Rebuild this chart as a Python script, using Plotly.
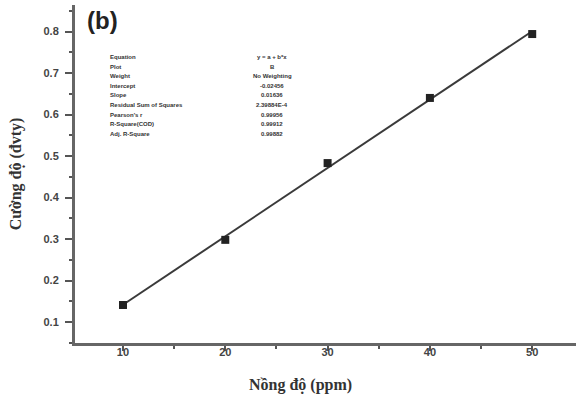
import numpy as np
import plotly.graph_objects as go

conc = [10, 20, 30, 40, 50]
intensity = [0.141, 0.298, 0.483, 0.640, 0.794]

stat_labels = ["Equation", "Plot", "Weight", "Intercept", "Slope",
               "Residual Sum of Squares", "Pearson's r", "R-Square(COD)", "Adj. R-Square"]
stat_values = ["y = a + b*x", "B", "No Weighting", "-0.02456", "0.01636",
               "2.39884E-4", "0.99956", "0.99912", "0.99882"]

slope, intercept = np.polyfit(conc, intensity, 1)
fit_x = [min(conc), max(conc)]
fit_y = [intercept + slope * v for v in fit_x]

fig = go.Figure()
fig.add_trace(go.Scatter(x=fit_x, y=fit_y, mode="lines",
                         line=dict(color="#3a3a3a", width=2), showlegend=False))
fig.add_trace(go.Scatter(x=conc, y=intensity, mode="markers",
                         marker=dict(symbol="square", size=8, color="#222222"),
                         showlegend=False))

W, H = 576, 398
ML, MR, MT, MB = 75, 0, 5, 55
plot_w = W - ML - MR
plot_h = H - MT - MB

tickfont = dict(family="Liberation Sans", size=11, color="#444444", weight="bold")
fig.update_layout(
    width=W, height=H,
    margin=dict(l=ML, r=MR, t=MT, b=MB),
    paper_bgcolor="white", plot_bgcolor="white",
    xaxis=dict(range=[5.31, 54.28], tickvals=[10, 20, 30, 40, 50], ticks="outside",
               ticklen=5, tickwidth=2, tickcolor="#555555", showgrid=False, zeroline=False,
               showline=True, linecolor="#666666", linewidth=3, tickfont=tickfont,
               ticklabelstandoff=-8,
               minor=dict(ticks="outside", ticklen=3, tickwidth=1.5, tickcolor="#555555", dtick=5, tick0=0, showgrid=False)),
    yaxis=dict(range=[0.0494, 0.864], tickvals=[0.1, 0.2, 0.3, 0.4, 0.5, 0.6, 0.7, 0.8], ticks="outside",
               ticklen=7, tickwidth=2, tickcolor="#555555", showgrid=False, zeroline=False,
               showline=True, linecolor="#666666", linewidth=3, tickfont=tickfont,
               ticklabelstandoff=4,
               minor=dict(ticks="outside", ticklen=3, tickwidth=1.5, tickcolor="#555555", dtick=0.05, tick0=0, showgrid=False),
               title=dict(text="Cường độ (đvty)", standoff=18,
                          font=dict(family="Liberation Serif", size=16, color="#333333", weight="bold"))),
)

# x-axis title, placed as in the reference (centred left of the plot centre)
fig.add_annotation(text="Nồng độ (ppm)", xref="paper", yref="paper",
                   x=(300 - ML) / plot_w, y=1 - (385 - MT) / plot_h,
                   xanchor="center", yanchor="middle", showarrow=False,
                   font=dict(family="Liberation Serif", size=16, color="#333333", weight="bold"))

fig.add_annotation(text="<b>(b)</b>", xref="x domain", yref="y domain", x=0.02, y=1.0,
                   xanchor="left", yanchor="top", showarrow=False,
                   font=dict(family="Liberation Sans", size=24, color="#222222"))

row_h = 9.6
top_px = 57
for i, (lab, val) in enumerate(zip(stat_labels, stat_values)):
    ypx = top_px + i * row_h
    yd = 1 - (ypx - MT) / plot_h
    fig.add_annotation(text=lab, xref="x domain", yref="y domain",
                       x=(108 - ML) / plot_w, y=yd, xanchor="left", yanchor="middle",
                       showarrow=False, font=dict(family="Liberation Sans", size=6, color="#333333", weight="bold"))
    fig.add_annotation(text=val, xref="x domain", yref="y domain",
                       x=(272 - ML) / plot_w, y=yd, xanchor="center", yanchor="middle",
                       showarrow=False, font=dict(family="Liberation Sans", size=6, color="#333333", weight="bold"))

fig.write_html("out.html")
